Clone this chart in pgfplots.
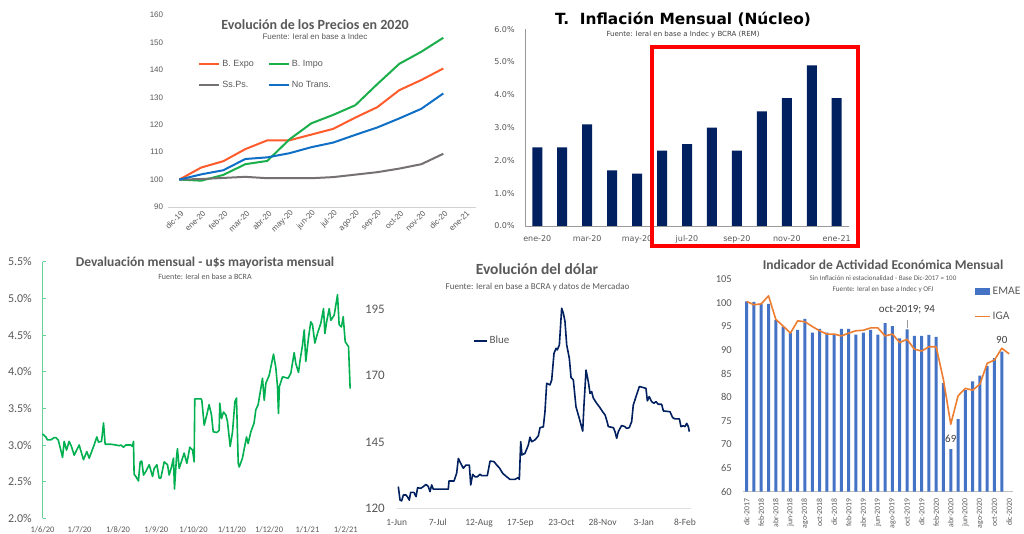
\documentclass[border=0pt]{standalone}
\usepackage{pgfplots}
\pgfplotsset{compat=1.18}
\usepackage{fontspec}
\setmainfont{Carlito}
\newfontfamily\arialf{Liberation Sans}
\newfontfamily\verdf{DejaVu Sans}
\definecolor{tgray}{HTML}{595959}
\definecolor{dgray}{HTML}{404040}
\definecolor{navy}{HTML}{002060}
\definecolor{xorange}{HTML}{ED7D31}
\definecolor{xblue}{HTML}{4472C4}
\definecolor{xgreen}{HTML}{00B050}
\definecolor{expo}{HTML}{FF5B2B}
\definecolor{impo}{HTML}{1AAF4B}
\definecolor{ssps}{HTML}{767171}
\definecolor{notr}{HTML}{0F6FC6}
\newcommand{\fs}[1]{\fontsize{#1}{#1}\selectfont}
\pgfplotsset{
  base/.style={scale only axis, anchor=south west, clip=false,
    tick label style={inner sep=0pt, text=tgray},
    major tick length=0pt, tick align=inside,
    legend cell align=left,
  },
}
\tikzset{ttl/.style={anchor=base, inner sep=0pt}}
\begin{document}
\begin{tikzpicture}
\fill[white] (0pt,0pt) rectangle (1024pt,-534pt);
\useasboundingbox (0pt,0pt) rectangle (1024pt,-534pt);

% ---------- Chart 1: Evolucion de los precios ----------
\begin{axis}[base, at={(168.3pt,-207pt)}, width=308pt, height=192pt,
  xmin=-0.5, xmax=13.5, ymin=90, ymax=160,
  axis x line*=bottom, axis y line*=left,
  x axis line style={-, draw=black!18, line width=0.8pt},
  y axis line style={-, draw=none},
  tick style={draw=none},
  ytick={90,100,110,120,130,140,150,160}, yticklabels={90,100,110,120,130,140,150,160},
  yticklabel style={font=\arialf\fs{8}, anchor=east, xshift=-5pt},
  xtick={0,...,13},
  xticklabels={dic-19,ene-20,feb-20,mar-20,abr-20,may-20,jun-20,jul-20,ago-20,sep-20,oct-20,nov-20,dic-20,ene-21},
  xticklabel style={font=\arialf\fs{8}, xshift=3pt, yshift=-5pt, rotate=45, anchor=east},
  legend columns=2,
  legend style={at={(0.087,0.786)}, anchor=north west, draw=none, fill=none,
    font=\arialf\fs{9}, text=tgray, row sep=9pt,
    /tikz/every even column/.append style={column sep=12pt}},
  legend image code/.code={\draw[#1] (0pt,0pt) -- (20pt,0pt);},
]
\addplot[expo, line width=2pt, line join=round] coordinates {(0,100)(1,104.4)(2,106.7)(3,111.1)(4,114.3)(5,114.3)(6,116.4)(7,118.5)(8,122.6)(9,126.4)(10,132.6)(11,136.3)(12,140.5)};
\addlegendentry{B. Expo}
\addplot[impo, line width=2pt, line join=round] coordinates {(0,100)(1,99.6)(2,101.7)(3,105.6)(4,106.8)(5,114.6)(6,120.5)(7,123.6)(8,127.1)(9,134.8)(10,142.2)(11,146.6)(12,151.7)};
\addlegendentry{B. Impo}
\addplot[ssps, line width=2pt, line join=round] coordinates {(0,100)(1,100.2)(2,100.6)(3,101)(4,100.5)(5,100.5)(6,100.5)(7,100.9)(8,101.8)(9,102.7)(10,104)(11,105.6)(12,109.4)};
\addlegendentry{Ss.Ps.}
\addplot[notr, line width=2pt, line join=round] coordinates {(0,100)(1,101.9)(2,103.4)(3,107.5)(4,108.1)(5,109.6)(6,111.8)(7,113.5)(8,116.3)(9,119)(10,122.3)(11,125.8)(12,131.4)};
\addlegendentry{No Trans.}
\end{axis}
\node[ttl, font=\bfseries\fs{14}, text=tgray] at (315pt,-29.5pt) {Evolución de los Precios en 2020};
\node[ttl, font=\arialf\fs{8}, text=tgray] at (315pt,-40pt) {Fuente: Ieral en base a Indec};

% ---------- Chart 2: Inflacion mensual ----------
\begin{axis}[base, at={(524.8pt,-226pt)}, width=324.4pt, height=196.7pt,
  xmin=-0.5, xmax=12.5, ymin=0, ymax=6,
  axis x line*=bottom, axis y line*=left,
  axis line style={-, draw=black!40, line width=0.6pt},
  tick style={draw=none},
  ytick={0,...,6}, yticklabels={0.0\%,1.0\%,2.0\%,3.0\%,4.0\%,5.0\%,6.0\%},
  yticklabel style={font=\verdf\fs{8}, anchor=east, xshift=-10pt},
  xtick={0,2,...,12}, xticklabels={ene-20,mar-20,may-20,jul-20,sep-20,nov-20,ene-21},
  xticklabel style={font=\verdf\fs{8}, anchor=north, yshift=-9pt},
]
\addplot[ybar, bar width=10pt, fill=navy, draw=none] coordinates {(0,2.4)(1,2.4)(2,3.1)(3,1.7)(4,1.6)(5,2.3)(6,2.5)(7,3.0)(8,2.3)(9,3.5)(10,3.9)(11,4.9)(12,3.9)};
\end{axis}
\node[ttl, font=\verdf\bfseries\fs{15.4}, text=black] at (683pt,-24.3pt) {T.\ \ Inflación Mensual (Núcleo)};
\node[ttl, font=\verdf\fs{7}, text=dgray] at (683pt,-37pt) {Fuente: Ieral en base a Indec y BCRA (REM)};
\draw[red, line width=4pt] (652pt,-47pt) rectangle (858pt,-246pt);

% ---------- Chart 3: Devaluacion mensual ----------
\begin{axis}[base, at={(42.5pt,-518.3pt)}, width=309.5pt, height=256.6pt,
  xmin=0, xmax=250, ymin=2, ymax=5.5,
  axis x line*=bottom, axis y line*=left,
  x axis line style={-, draw=none}, y axis line style={-, draw=xgreen!60, line width=0.8pt},
  major tick length=3pt,
  ytick style={draw=xgreen!60, line width=0.8pt},
  xtick style={draw=none},
  ytick={2,2.5,3,3.5,4,4.5,5,5.5}, yticklabels={2.0\%,2.5\%,3.0\%,3.5\%,4.0\%,4.5\%,5.0\%,5.5\%},
  yticklabel style={font=\fs{12}, anchor=east, xshift=-10.5pt},
  xtick={0,30,61,92,122,153,183,214,245},
  xticklabels={1/6/20,1/7/20,1/8/20,1/9/20,1/10/20,1/11/20,1/12/20,1/1/21,1/2/21},
  xticklabel style={font=\fs{8.5}, anchor=north, yshift=-7.6pt},
]
\addplot[xgreen, line width=1.6pt, line join=round] coordinates {(0,3.15)(2.7,3.11)(4,3.07)(6.7,3.07)(9.4,3.10)(10.8,3.10)(12.7,3.07)(14.8,2.93)(16.2,2.83)(17.5,3.05)(19.4,2.93)(21.5,3.05)(23.4,2.98)(25.6,2.86)(29.6,3.0)(33.1,2.80)(35.8,2.91)(37.7,2.82)(41.7,3.0)(43.9,3.11)(45.2,3.04)(47.7,3.05)(49.3,3.30)(50.6,3.01)(55.2,3.01)(59.2,3.0)(61.9,2.99)(63.3,3.0)(65.4,2.97)(67.3,3.0)(71.4,3.0)(72.7,2.98)(73.5,3.05)(74,2.60)(75.4,2.57)(77.5,2.51)(78.9,2.77)(80.2,2.78)(81.6,2.59)(83.5,2.64)(86.2,2.73)(88.9,2.57)(90.2,2.68)(92.4,2.73)(94.2,2.55)(95.6,2.55)(98.3,2.77)(101,2.73)(102.3,2.59)(104.2,2.70)(105.8,2.82)(106.6,2.40)(108.2,2.82)(109,2.95)(110.4,2.68)(113.1,2.82)(114.4,2.89)(116.6,2.75)(119,2.97)(121.2,2.93)(122.5,2.77)(123,3.63)(127.9,3.63)(128.7,3.61)(130.6,3.27)(132.7,3.41)(134.6,3.55)(136.5,3.41)(137.9,3.18)(140.8,3.17)(142.7,3.20)(143.2,3.57)(144.6,3.36)(146.2,3.45)(148.1,3.41)(149.4,3.32)(151.6,2.98)(153.5,3.18)(155.4,3.59)(156.7,3.64)(158.1,2.75)(158.9,2.70)(161.5,2.82)(164.8,3.11)(166.1,3.02)(168.3,3.18)(170.9,3.30)(172.3,3.48)(174.2,3.55)(177.7,3.91)(179.1,3.61)(180.4,3.84)(183.1,3.95)(186.6,4.24)(188.5,4.05)(189.8,3.80)(190.6,3.43)(191.4,3.80)(193.9,3.93)(198.4,3.91)(200.6,3.98)(203.3,4.26)(204.6,4.11)(206.8,3.99)(208.1,4.16)(210,4.36)(211.4,4.57)(212.7,4.14)(214.6,4.43)(216.7,4.68)(218.1,4.64)(220,4.39)(222.1,4.52)(224.8,4.66)(227,4.86)(228.1,4.52)(229.7,4.70)(231.6,4.86)(232.9,4.70)(235.6,4.77)(238.3,5.05)(239.6,4.64)(241.5,4.61)(242.9,4.75)(244.5,4.41)(247.2,4.34)(248.5,3.77)};
\end{axis}
\node[ttl, font=\bfseries\fs{13.5}, text=tgray] at (205pt,-266.7pt) {Devaluación mensual - u\$s mayorista mensual};
\node[ttl, font=\fs{8}, text=tgray] at (205pt,-279.3pt) {Fuente: Ieral en base a BCRA};

% ---------- Chart 4: Evolucion del dolar ----------
\begin{axis}[base, at={(396.7pt,-508.3pt)}, width=294pt, height=199pt,
  xmin=0, xmax=257, ymin=120, ymax=195,
  axis x line*=bottom, axis y line*=left,
  x axis line style={-, draw=black!12, line width=1.5pt}, y axis line style={-, draw=none},
  tick style={draw=none},
  ytick={120,145,170,195}, yticklabels={120,145,170,195},
  yticklabel style={font=\fs{13}, anchor=east, xshift=-11.7pt},
  xtick={0,36,72,108,144,180,216,252},
  xticklabels={1-Jun,7-Jul,12-Aug,17-Sep,23-Oct,28-Nov,3-Jan,8-Feb},
  xticklabel style={font=\fs{9.5}, anchor=north, yshift=-10.7pt},
  legend style={at={(0.249,0.886)}, anchor=north west, draw=none, fill=none, font=\fs{11}, text=tgray},
  legend image code/.code={\draw[#1] (0pt,0pt) -- (13pt,0pt);},
]
\addplot[navy, line width=1.6pt, line join=round] coordinates {(1.4,128.2)(2.9,123.1)(4.3,122.8)(5.8,125)(8.1,125)(9.3,124.4)(11,123.1)(12.2,126)(15.1,126)(16.9,124.4)(18.3,127.8)(21,127.5)(23.3,128.2)(25.6,129)(27.6,128.2)(29.1,126.3)(30.6,128.8)(32,127.2)(45.1,127.2)(45.7,130.3)(50.1,130.3)(52.4,133.2)(53.9,138.8)(55.9,137)(58.2,135.1)(60.6,136.3)(63.5,136.3)(64.7,128.8)(66.4,132.8)(68.4,131.9)(70.5,131.9)(72.8,132.8)(74.3,132.3)(79.2,132.3)(81.6,137.8)(85.1,137.6)(87.4,136.3)(89.7,135.3)(92.6,133.2)(96.1,131.9)(99,130.9)(103.4,130.9)(106.3,131.6)(107.2,130.9)(108.4,145.1)(109.5,140.1)(112.1,140.7)(115.1,143.9)(116.5,146.8)(118,145.1)(120.9,145.8)(123.8,147.3)(125.3,150.4)(128.2,150.7)(129.6,156.4)(131.1,167.1)(134,166.5)(135.5,168.4)(137.5,178.4)(139.3,180.3)(140.4,179.7)(142.2,181.6)(144.2,195.4)(145.7,193.5)(147.1,190.4)(148.6,181.6)(150.9,176.5)(152.4,169.3)(154.4,168.4)(156.7,158.3)(159.6,153.9)(162.6,149.1)(163.7,158.9)(165.5,172.1)(167.5,167.7)(169,163.3)(170.4,164)(171.9,161.5)(174.8,159.6)(177.7,157.9)(180,156.4)(182.1,155.2)(183.5,153.3)(185,150.8)(189.4,150.4)(190.8,148.9)(192.3,146.4)(193.7,148.9)(196.6,151.2)(199.5,150.8)(201,150.1)(203.3,150.4)(205.4,152.7)(206.8,158.9)(209.2,162.1)(212.1,165.9)(215.6,165.5)(217.9,165.2)(219.1,160.5)(220.8,162.1)(222.8,160.2)(224.9,159.6)(226.6,160.2)(228.7,159.2)(231.6,159.2)(233.1,156.7)(238.9,156.4)(241.2,154.2)(243.2,153.7)(247.1,153.7)(248.5,150.8)(250.6,151.1)(252,150.8)(253.5,152)(254.9,150.8)(255.8,148.9)};
\addlegendentry{Blue}
\end{axis}
\node[ttl, font=\bfseries\fs{15.5}, text=tgray] at (537pt,-274.3pt) {Evolución del dólar};
\node[ttl, font=\fs{9}, text=tgray] at (537.5pt,-290pt) {Fuente: Ieral en base a BCRA y datos de Mercadao};

% ---------- Chart 5: Actividad economica ----------
\begin{axis}[base, at={(743pt,-491.7pt)}, width=269.7pt, height=212.4pt,
  xmin=-0.5, xmax=36.5, ymin=60, ymax=105,
  axis x line*=bottom, axis y line*=left,
  x axis line style={-, draw=black!25, line width=0.8pt}, y axis line style={-, draw=none},
  tick style={draw=none},
  ytick={60,65,70,75,80,85,90,95,100,105}, yticklabels={60,65,70,75,80,85,90,95,100,105},
  yticklabel style={font=\fs{10.5}, anchor=east, xshift=-11pt},
  xtick={0,2,...,36},
  xticklabels={dic-2017,feb-2018,abr-2018,jun-2018,ago-2018,oct-2018,dic-2018,feb-2019,abr-2019,jun-2019,ago-2019,oct-2019,dic-2019,feb-2020,abr-2020,jun-2020,ago-2020,oct-2020,dic-2020},
  xticklabel style={font=\fs{7.8}, yshift=-6.6pt, rotate=90, anchor=east},
  legend style={at={(0.845,0.983)}, anchor=north west, draw=none, fill=none, font=\fs{11.5}, text=tgray, row sep=12pt},
]
\addplot[ybar, bar width=3pt, fill=xblue, draw=none,
  legend image code/.code={\fill[xblue] (0pt,-3.5pt) rectangle (15pt,3.5pt);}]
  coordinates {(0,100.3)(1,100.2)(2,99.8)(3,99.8)(4,96.4)(5,95.0)(6,93.6)(7,94.3)(8,96.6)(9,93.7)(10,94.5)(11,93.7)(12,93.2)(13,94.5)(14,94.5)(15,93.3)(16,93.7)(17,94.3)(18,93.3)(19,95.7)(20,95.1)(21,92.5)(22,94.4)(23,93.0)(24,93.0)(25,93.2)(26,92.8)(27,83.0)(28,69.0)(29,75.4)(30,81.5)(31,83.4)(32,84.6)(33,86.6)(34,88.3)(35,89.7)};
\addlegendentry{EMAE}
\addplot[xorange, line width=1.6pt, line join=round,
  legend image code/.code={\draw[xorange, line width=1.6pt] (0pt,0pt) -- (15pt,0pt);}]
  coordinates {(0,100.3)(1,99.6)(2,99.8)(3,101.5)(4,96.5)(5,95.1)(6,93.6)(7,96.2)(8,96.0)(9,95.0)(10,94.1)(11,93.4)(12,93.4)(13,93.0)(14,93.6)(15,94.1)(16,94.2)(17,94.7)(18,94.7)(19,93.0)(20,93.4)(21,91.6)(22,92.3)(23,90.2)(24,89.8)(25,90.7)(26,90.7)(27,83.7)(28,74.3)(29,80.3)(30,81.9)(31,81.5)(32,82.8)(33,87.2)(34,87.9)(35,90.4)(36,89.2)};
\addlegendentry{IGA}
\node[font=\fs{11}, text=dgray, inner sep=0pt] at (axis cs:22,98.5) {oct-2019; 94};
\draw[black!40] (axis cs:22,96.4) -- (axis cs:22,94.7);
\node[font=\fs{11}, text=dgray, inner sep=0pt] at (axis cs:28,71.3) {69};
\node[font=\fs{11}, text=dgray, inner sep=0pt] at (axis cs:35,92.1) {90};
\end{axis}
\node[ttl, font=\bfseries\fs{13.5}, text=tgray] at (883pt,-269.3pt) {Indicador de Actividad Económica Mensual};
\node[ttl, font=\fs{7}, text=tgray] at (883pt,-280.7pt) {Sin Inflación ni estacionalidad - Base Dic-2017 = 100};
\node[ttl, font=\fs{7.2}, text=tgray] at (883pt,-291.7pt) {Fuente: Ieral en base a Indec y OFJ};
\end{tikzpicture}
\end{document}
